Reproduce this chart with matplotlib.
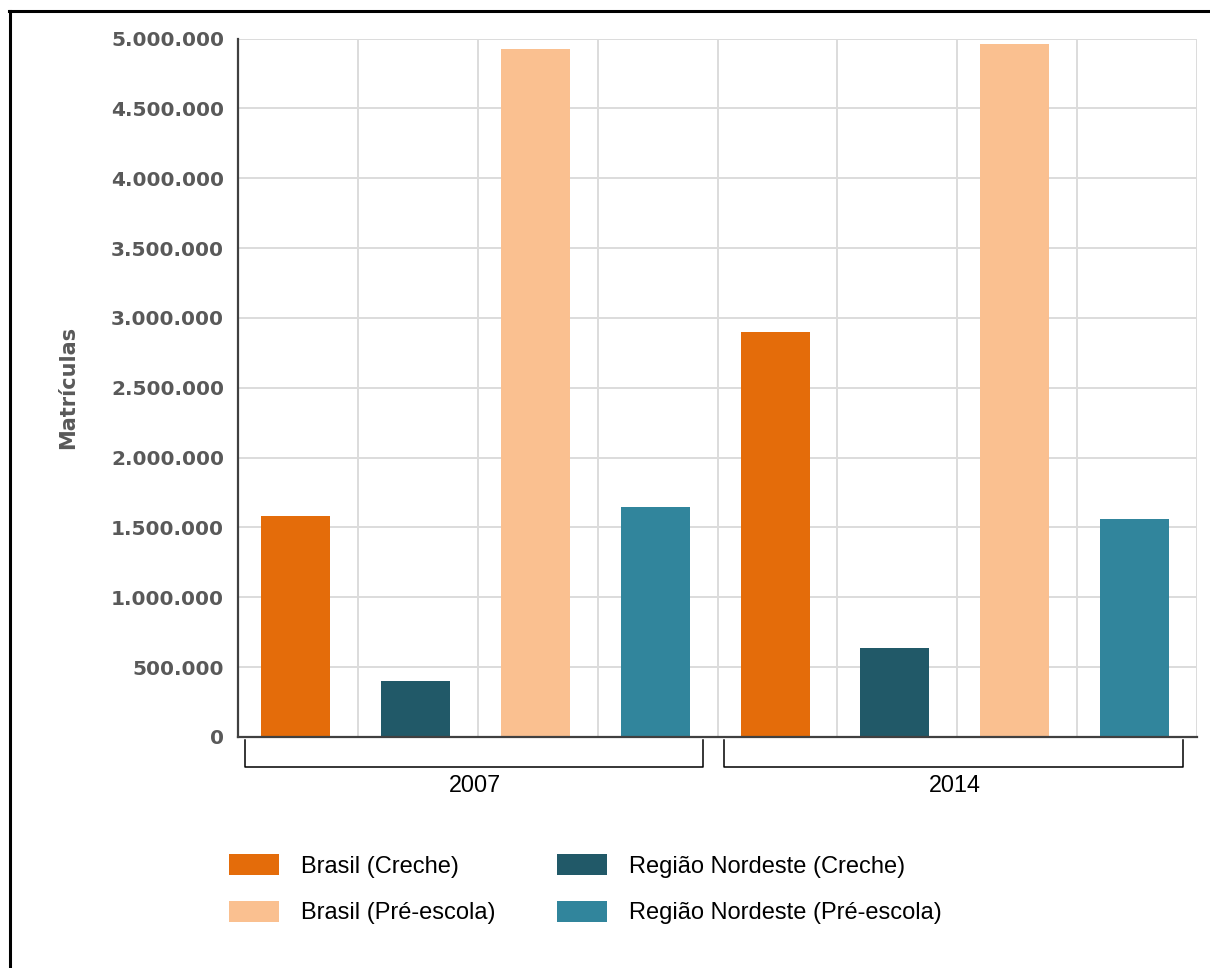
import matplotlib
matplotlib.use("Agg")
import matplotlib.pyplot as plt
import matplotlib.ticker as ticker
import matplotlib.transforms as mtransforms
from matplotlib.lines import Line2D

# data
years = ["2007", "2014"]
series_names = ["Brasil (Creche)", "Região Nordeste (Creche)",
                "Brasil (Pré-escola)", "Região Nordeste (Pré-escola)"]
brasil_creche = [1582000, 2900000]
nordeste_creche = [402000, 637000]
brasil_pre = [4925000, 4960000]
nordeste_pre = [1646000, 1560000]
series_values = [brasil_creche, nordeste_creche, brasil_pre, nordeste_pre]
series_colors = ["#E46C0A", "#215968", "#FAC090", "#31859C"]
y_ticks = [0, 500000, 1000000, 1500000, 2000000, 2500000,
           3000000, 3500000, 4000000, 4500000, 5000000]


def dotted(v, pos=None):
    return f"{v:,.0f}".replace(",", ".")


def main():
    fig = plt.figure(figsize=(12.1, 9.68), dpi=100)
    ax = fig.add_axes([238 / 1210, 1 - 737 / 968,
                       (1197 - 238) / 1210, (737 - 38.5) / 968])

    n = len(series_names)
    handles = []
    for s, (name, vals, col) in enumerate(zip(series_names, series_values,
                                              series_colors)):
        # bars sit a hair left of the slot centre in the original
        xs = [g * n + s - 0.02 for g in range(len(years))]
        b = ax.bar(xs, vals, width=0.575, color=col, label=name, zorder=3)
        handles.append(b)

    ax.set_xlim(-0.5, len(years) * n - 0.5)
    ax.set_ylim(0, 5000000)
    ax.set_yticks(y_ticks)
    ax.yaxis.set_major_formatter(ticker.FuncFormatter(dotted))
    ax.set_xticks([i + 0.5 for i in range(-1, len(years) * n)], minor=True)
    ax.set_xticks([])
    ax.grid(True, axis="y", color="#dcdcdc", lw=1.4, zorder=0)
    ax.grid(True, axis="x", which="minor", color="#dcdcdc", lw=1.4, zorder=0)
    ax.tick_params(axis="y", length=0, pad=10, labelsize=14.5,
                   labelcolor="#595959")
    ax.tick_params(axis="x", which="both", length=0)
    for lab in ax.get_yticklabels():
        lab.set_fontweight("bold")
    for side in ["top", "right"]:
        ax.spines[side].set_visible(False)
    for side in ["left", "bottom"]:
        ax.spines[side].set_color("#404040")
        ax.spines[side].set_linewidth(1.6)
    ax.spines["left"].set_zorder(4)
    ax.spines["bottom"].set_zorder(4)

    ax.set_ylabel("Matrículas", fontsize=15, fontweight="bold",
                  color="#595959", labelpad=24)

    # year brackets under the axis
    trans = mtransforms.blended_transform_factory(ax.transData, ax.transAxes)
    for g, year in enumerate(years):
        x0 = g * n - 0.5 + 0.055
        x1 = g * n + n - 0.5 - 0.12
        ax.plot([x0, x0, x1, x1], [-0.005, -0.043, -0.043, -0.005],
                color="black", lw=1.1, transform=trans, clip_on=False)
        ax.text((x0 + x1) / 2 + 0.01, -0.0695, year, transform=trans,
                ha="center", va="center", fontsize=16.8,
                family="Liberation Sans")

    order = [0, 2, 1, 3]
    fig.legend([handles[i] for i in order],
               [series_names[i] for i in order],
               loc="upper left", bbox_to_anchor=(229 / 1210, 1 - 854 / 968),
               ncol=2, frameon=False, borderpad=0, borderaxespad=0,
               handlelength=2.1, handleheight=1.0, handletextpad=0.95,
               columnspacing=2.62, labelspacing=0.98,
               prop={"family": "Liberation Sans", "size": 17})

    # outer frame (left and top only)
    fig.add_artist(Line2D([9.5 / 1210, 9.5 / 1210], [0, 1 - 10.5 / 968],
                          color="black", lw=2.2))
    fig.add_artist(Line2D([8.5 / 1210, 1], [1 - 10.5 / 968, 1 - 10.5 / 968],
                          color="black", lw=2.2))

    fig.savefig("out.png", dpi=100)


if __name__ == "__main__":
    main()
